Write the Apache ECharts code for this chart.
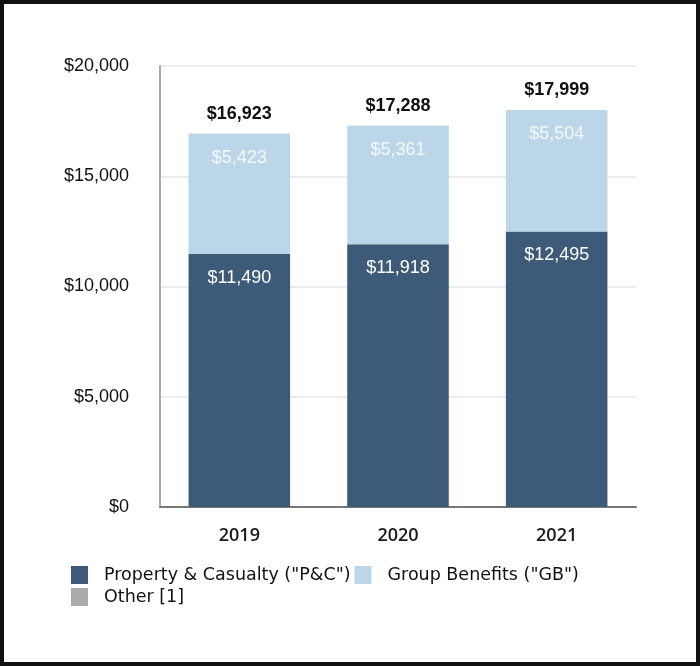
<!DOCTYPE html>
<html>
<head>
<meta charset="utf-8">
<script src="https://cdn.jsdelivr.net/npm/echarts@6/dist/echarts.min.js"></script>
<style>
  html, body { margin: 0; padding: 0; background: #fff; }
  #frame { width: 700px; height: 666px; box-sizing: border-box; border: 4px solid #111; position: relative; }
  #chart { position: absolute; left: -4px; top: -4px; width: 700px; height: 666px; }
</style>
</head>
<body>
<div id="frame"><div id="chart"></div></div>
<script>
const categories = ['2019', '2020', '2021'];
const pcValues = [11490, 11918, 12495];
const gbValues = [5423, 5361, 5504];
const otherValues = [10, 9, 0];
const totals = [16923, 17288, 17999];
const yTicks = [0, 5000, 10000, 15000, 20000];

const fmt = v => '$' + Number(v).toLocaleString('en-US');

const chart = echarts.init(document.getElementById('chart'), null, { renderer: 'canvas' });
chart.setOption({
  animation: false,
  backgroundColor: 'transparent',
  grid: { left: 160, right: 64, top: 66, bottom: 159, containLabel: false },
  xAxis: {
    type: 'category',
    data: categories,
    axisLine: { show: true, lineStyle: { color: '#777', width: 2 } },
    axisTick: { show: false },
    axisLabel: { margin: 20, fontSize: 18, fontWeight: 600, color: '#1a1a1a', fontFamily: 'Open Sans' }
  },
  yAxis: {
    type: 'value',
    min: yTicks[0],
    max: yTicks[yTicks.length - 1],
    interval: 5000,
    axisLine: { show: true, lineStyle: { color: '#aaa', width: 2 } },
    axisTick: { show: false },
    splitLine: { show: true, lineStyle: { color: '#e6e6e6', width: 1.5 } },
    axisLabel: { margin: 31, fontSize: 18, color: '#111', fontFamily: 'Liberation Sans', formatter: v => fmt(v) }
  },
  legend: {
    left: 71, top: 566, width: 580, padding: 0,
    orient: 'horizontal',
    itemWidth: 17, itemHeight: 18, itemGap: 4,
    icon: 'rect',
    textStyle: { fontSize: 17.5, color: '#111', fontFamily: 'DejaVu Sans', padding: [0, 0, 0, 11] },
    data: ['Property & Casualty ("P&C")', 'Group Benefits ("GB")', 'Other [1]']
  },
  series: [
    {
      name: 'Property & Casualty ("P&C")', type: 'bar', stack: 'total', barWidth: '64%',
      data: pcValues,
      itemStyle: { color: '#3d5a78' },
      label: { show: true, position: 'insideTop', distance: 15, color: '#fff', fontSize: 18, fontFamily: 'Liberation Sans', formatter: p => fmt(p.value) }
    },
    {
      name: 'Group Benefits ("GB")', type: 'bar', stack: 'total', barWidth: '64%',
      data: gbValues,
      itemStyle: { color: '#bad6e8' },
      label: { show: true, position: 'insideTop', distance: 15, color: '#f4f8fb', fontSize: 18, fontFamily: 'Liberation Sans', formatter: p => fmt(p.value) }
    },
    {
      name: 'Other [1]', type: 'bar', stack: 'total', barWidth: '64%',
      data: otherValues,
      itemStyle: { color: '#aaaaaa' },
      label: { show: true, position: 'top', distance: 11, color: '#111', fontSize: 18, fontWeight: 'bold', fontFamily: 'Liberation Sans', formatter: p => fmt(totals[p.dataIndex]) }
    }
  ]
});
</script>
</body>
</html>
